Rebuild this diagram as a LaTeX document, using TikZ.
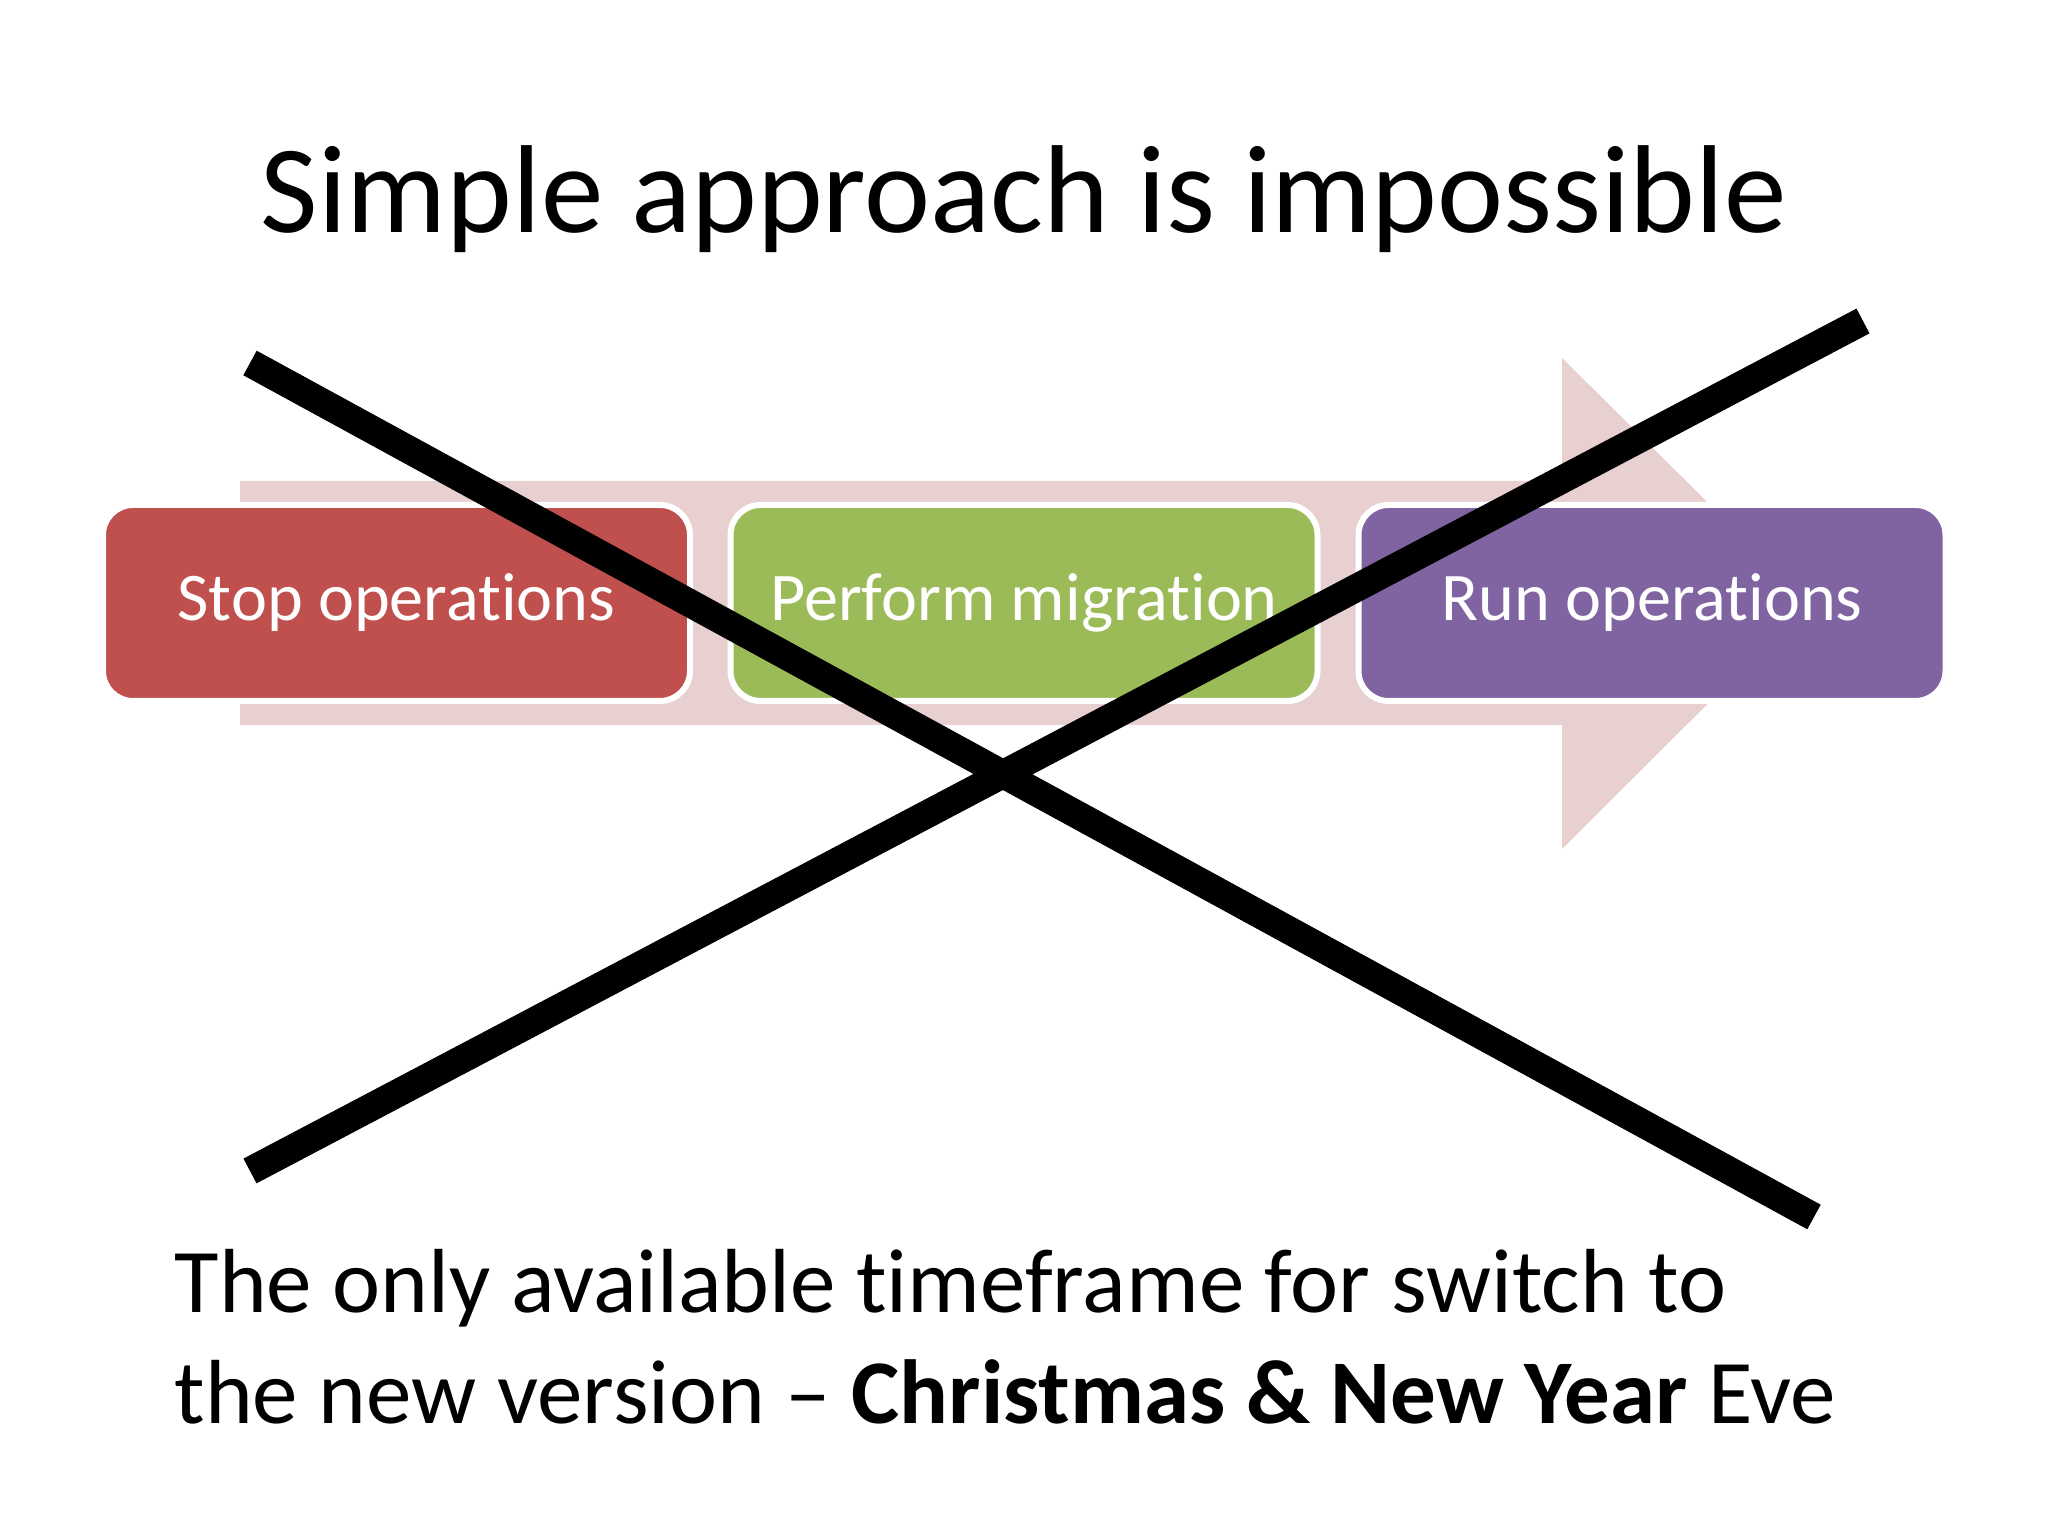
\documentclass[tikz,border=0pt]{standalone}
\usepackage{fontspec}
\setmainfont{Carlito}[Ligatures={NoCommon}]
\usetikzlibrary{positioning}
\definecolor{stopred}{HTML}{C0504D}
\definecolor{migrgreen}{HTML}{9BBB59}
\definecolor{runpurple}{HTML}{8064A2}
\definecolor{flowpink}{RGB}{232,208,208}

\begin{document}
\begin{tikzpicture}[
		stage/.style={rectangle, rounded corners=0.3cm, draw=white, line width=0.06cm,
			minimum width=5.87cm, minimum height=1.96cm, text=white,
			font=\fontsize{19.4}{24}\selectfont},
		cross/.style={line width=0.28cm}
	]
		\useasboundingbox (0,0) rectangle (20.48,15.36);
		\fill[white] (0,0) rectangle (20.48,15.36);

		\draw (10.24,13.035) node [anchor=base, font=\fontsize{35.6}{43}\selectfont] (title) {Simple approach is impossible};

		\fill[flowpink] (2.40,10.55) -- (15.62,10.55) -- (15.62,11.78) -- (18.09,9.33)
			-- (15.62,6.87) -- (15.62,8.11) -- (2.40,8.11) -- cycle;

		\draw (3.965,9.33) node [stage, fill=stopred] (stop) {Stop operations};
		\draw (10.24,9.33) node [stage, fill=migrgreen] (migr) {Perform migration};
		\draw (16.52,9.33) node [stage, fill=runpurple] (run) {Run operations};

		\coordinate (nw) at (2.50,11.73);
		\coordinate (se) at (18.14,3.19);
		\coordinate (sw) at (2.50,3.65);
		\coordinate (ne) at (18.63,12.15);
		\draw[cross] (nw) -- (se);
		\draw[cross] (sw) -- (ne);

		\draw (1.74,1.12) node [anchor=base west, align=left, inner sep=0pt,
			font=\fontsize{25.9}{31.6}\selectfont] (note)
			{The only available timeframe for switch to\\the new version -- \textbf{Christmas \& New Year} Eve};
	\end{tikzpicture}
\end{document}
